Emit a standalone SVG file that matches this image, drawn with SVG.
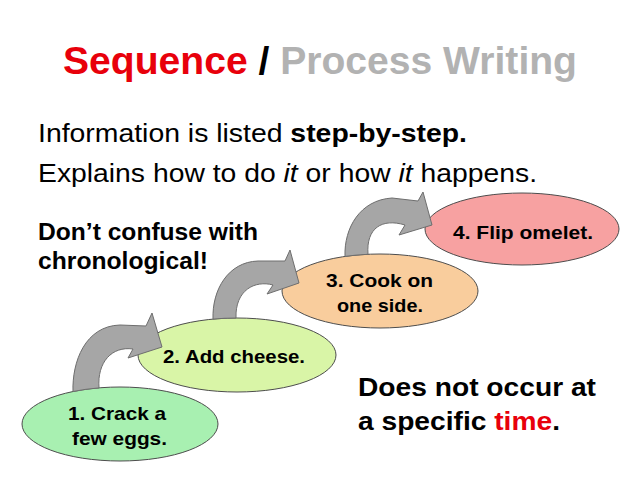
<svg xmlns="http://www.w3.org/2000/svg" width="638" height="478" viewBox="0 0 638 478">
<defs>
<style>
text{font-family:"Liberation Sans",Arial,sans-serif;}
.b{font-weight:bold;}
.node text{font-weight:bold;font-size:19px;text-anchor:middle;fill:#000;}
.node ellipse{stroke:#4d4d4d;stroke-width:1;}
.arrow{fill:#a6a6a6;stroke:#6e6e6e;stroke-width:1;stroke-linejoin:miter;}
</style>
</defs>
<rect width="638" height="478" fill="#fff"/>
<text x="320" y="74" font-size="39" class="b" text-anchor="middle" textLength="514" lengthAdjust="spacingAndGlyphs"><tspan fill="#e8000b">Sequence</tspan><tspan fill="#000"> / </tspan><tspan fill="#b2b2b2">Process Writing</tspan></text>
<text x="38" y="142" font-size="26.5" fill="#000" textLength="429" lengthAdjust="spacingAndGlyphs">Information is listed <tspan class="b">step-by-step.</tspan></text>
<text x="38" y="182" font-size="26.5" fill="#000" textLength="499" lengthAdjust="spacingAndGlyphs">Explains how to do <tspan font-style="italic">it</tspan> or how <tspan font-style="italic">it</tspan> happens.</text>
<text x="38" y="240" font-size="23.5" class="b" fill="#000" textLength="220" lengthAdjust="spacingAndGlyphs">Don’t confuse with</text>
<text x="38" y="269" font-size="23.5" class="b" fill="#000" textLength="170" lengthAdjust="spacingAndGlyphs">chronological!</text>
<text x="358" y="396" font-size="25" class="b" fill="#000" textLength="238" lengthAdjust="spacingAndGlyphs">Does not occur at</text>
<text x="358" y="430" font-size="25" class="b" fill="#000" textLength="202" lengthAdjust="spacingAndGlyphs">a specific <tspan fill="#e8000b">time</tspan>.</text>
<g id="node4" class="node"><ellipse cx="522" cy="229" rx="97" ry="36" fill="#f7a1a1"/><text x="523" y="239" textLength="140" lengthAdjust="spacingAndGlyphs">4. Flip omelet.</text></g>
<g id="node3" class="node"><ellipse cx="380" cy="291" rx="98" ry="37" fill="#f9cd9d"/><text x="379.5" y="287" textLength="107" lengthAdjust="spacingAndGlyphs">3. Cook on</text><text x="380" y="312" textLength="86" lengthAdjust="spacingAndGlyphs">one side.</text></g>
<g id="node2" class="node"><ellipse cx="237" cy="355" rx="99" ry="37" fill="#d9f5a7"/><text x="234" y="363" textLength="142" lengthAdjust="spacingAndGlyphs">2. Add cheese.</text></g>
<g id="node1" class="node"><ellipse cx="120" cy="424" rx="98" ry="37" fill="#a8f0b1"/><text x="117" y="420" textLength="98" lengthAdjust="spacingAndGlyphs">1. Crack a</text><text x="119.5" y="445" textLength="95" lengthAdjust="spacingAndGlyphs">few eggs.</text></g>
<g id="connectors">
<path class="arrow" d="M 73,391.5 C 72,362 85,326 120,325 L 146,326 L 152,313 L 162,347 L 128,358 L 133,349 C 112,346 97,362 99,387.9 A 98 37 0 0 0 73,391.5 Z"/>
<path class="arrow" d="M 213,319.1 C 212,290 228,262 258,261 L 285,261 L 290,250 L 299,283 L 267,294 L 273,285 C 255,280 235,290 236,318 A 99 37 0 0 0 213,319.1 Z"/>
<path class="arrow" d="M 345,256.4 C 344,228 360,200 392,198 L 418,201 L 423,192 L 432,225 L 399,235 L 405,225 C 382,218 366,228 368,254.3 A 98 37 0 0 0 345,256.4 Z"/>
</g>
</svg>
